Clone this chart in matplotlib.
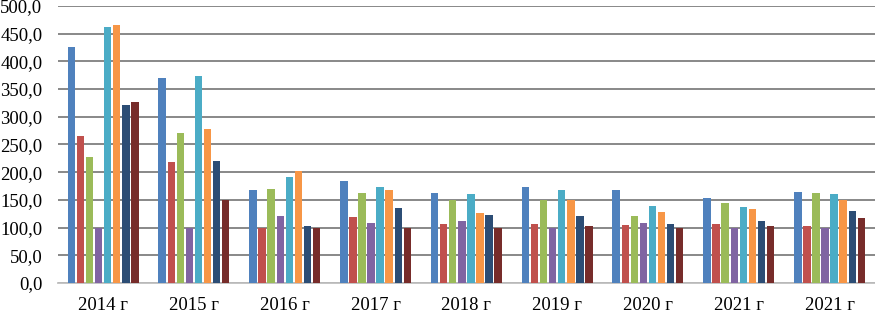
import matplotlib
matplotlib.use("Agg")
import matplotlib.pyplot as plt
import numpy as np

plt.rcParams['font.family'] = ['Liberation Serif', 'DejaVu Serif']

# Подписи по оси X
years = ['2014 г', '2015 г', '2016 г', '2017 г', '2018 г', '2019 г', '2020 г', '2021 г', '2021 г']

# Значения рядов (по цветам)
s1 = [426.5, 370.5, 167.0, 184.5, 161.5, 173.5, 168.0, 153.0, 164.0]
s2 = [265.0, 217.5, 100.0, 118.5, 106.0, 106.0, 105.5, 106.0, 103.0]
s3 = [227.0, 270.5, 170.0, 162.0, 149.5, 150.5, 121.0, 143.5, 162.0]
s4 = [100.0, 100.0, 120.0, 108.0, 111.0, 100.0, 109.0, 100.0, 100.0]
s5 = [461.5, 373.5, 191.0, 174.0, 160.0, 167.5, 138.5, 137.5, 160.0]
s6 = [465.0, 277.0, 202.0, 168.5, 125.5, 149.0, 129.0, 133.0, 149.0]
s7 = [320.5, 220.0, 102.5, 135.0, 122.5, 120.5, 107.0, 111.0, 130.5]
s8 = [326.5, 150.0, 100.0, 100.0, 100.0, 103.5, 100.0, 102.5, 117.0]

series = [s1, s2, s3, s4, s5, s6, s7, s8]
colors = ['#4F81BD', '#C0504D', '#9BBB59', '#8064A2',
          '#4BACC6', '#F79646', '#2C4D75', '#772C2A']

fig = plt.figure(figsize=(8.75, 3.12), dpi=100)
ax = fig.add_axes([0.066, 0.093, 0.934, 0.888])

x = np.arange(len(years))
step = 0.1
for i, (vals, c) in enumerate(zip(series, colors)):
    ax.bar(x + (i - 3.5) * step, vals, width=step * 0.82, color=c, zorder=3)

ax.set_xlim(-0.5, len(years) - 0.5)
ax.set_ylim(0, 500)
ax.set_yticks(np.arange(0, 501, 50))
ax.set_yticklabels([f'{v:.1f}'.replace('.', ',') for v in np.arange(0, 501, 50)])
ax.set_xticks(x)
ax.set_xticklabels(years)
ax.tick_params(axis='both', length=0, labelsize=13.5, colors='black')
ax.tick_params(axis='y', pad=11)
ax.tick_params(axis='x', pad=10)

ax.grid(axis='y', color='#7F7F7F', linewidth=1.3, zorder=0)
for sp in ['top', 'right', 'left']:
    ax.spines[sp].set_visible(False)
ax.spines['bottom'].set_color('#BFBFBF')
ax.spines['bottom'].set_linewidth(1.3)

fig.savefig('out.png', dpi=100)
